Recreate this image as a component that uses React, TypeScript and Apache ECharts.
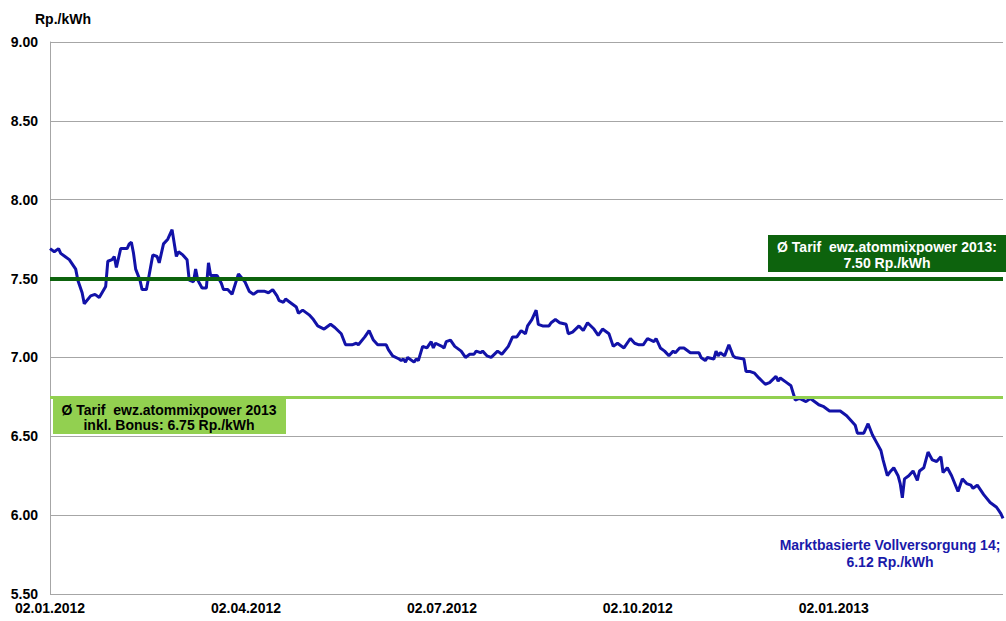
import React, { useEffect, useRef } from "react";
import * as echarts from "echarts";

// Days since 02.01.2012 for each observation
const dayOffsets = [
  0, 2, 4, 5, 7, 9, 12, 13, 15, 16, 19, 21, 23, 26, 27, 29, 30, 31, 33, 36, 37, 38, 39, 40, 42, 43, 45, 46, 48, 50,
  51, 53, 55, 57, 59, 60, 62, 64, 65, 67, 68, 69, 71, 73, 74, 75, 78, 80, 81, 83, 85, 88, 91, 93, 95, 97, 100, 102,
  104, 106, 107, 109, 110, 112, 115, 116, 118, 121, 123, 125, 128, 131, 133, 136, 138, 141, 143, 144, 147, 149, 151,
  153, 157, 158, 160, 163, 164, 165, 166, 167, 170, 171, 172, 174, 176, 178, 179, 180, 183, 184, 185, 187, 189, 192,
  194, 196, 198, 199, 201, 202, 204, 206, 209, 211, 214, 216, 218, 220, 222, 223, 225, 227, 228, 230, 233, 234, 236,
  238, 241, 242, 244, 247, 249, 251, 254, 256, 258, 261, 263, 265, 268, 271, 273, 275, 277, 279, 282, 283, 285, 287,
  289, 291, 292, 294, 296, 299, 303, 304, 306, 307, 310, 311, 312, 313, 315, 317, 319, 320, 324, 325, 327, 329, 331,
  334, 336, 339, 340, 341, 344, 346, 348, 350, 353, 355, 356, 359, 361, 364, 369, 372, 374, 376, 377, 380, 382, 384,
  386, 388, 389, 391, 392, 394, 396, 397, 398, 399, 401, 403, 405, 406, 408, 410, 412, 414, 416, 417, 419, 421, 424,
  426, 428, 430, 431, 433, 436, 439, 442, 444, 445,
];

// Rp./kWh
const prices = [
  7.69, 7.67, 7.69, 7.66, 7.64, 7.62, 7.56, 7.49, 7.41, 7.34, 7.39, 7.4, 7.38, 7.45, 7.61, 7.62, 7.64, 7.57, 7.69, 7.69,
  7.72, 7.73, 7.66, 7.56, 7.49, 7.43, 7.43, 7.5, 7.65, 7.64, 7.6, 7.72, 7.75, 7.81, 7.64, 7.67, 7.65, 7.62, 7.49, 7.48,
  7.56, 7.49, 7.44, 7.44, 7.6, 7.52, 7.52, 7.47, 7.43, 7.43, 7.4, 7.53, 7.48, 7.42, 7.4, 7.42, 7.42, 7.41, 7.43, 7.39,
  7.36, 7.35, 7.37, 7.35, 7.32, 7.28, 7.3, 7.27, 7.24, 7.2, 7.18, 7.21, 7.19, 7.15, 7.08, 7.08, 7.09, 7.08, 7.13, 7.17,
  7.11, 7.08, 7.08, 7.05, 7.01, 6.99, 6.98, 6.99, 6.97, 7.0, 6.97, 6.99, 6.98, 7.07, 7.06, 7.1, 7.06, 7.09, 7.07, 7.06,
  7.1, 7.11, 7.07, 7.04, 7.0, 7.02, 7.02, 7.04, 7.03, 7.04, 7.01, 7.0, 7.04, 7.02, 7.07, 7.13, 7.13, 7.17, 7.15, 7.2,
  7.24, 7.3, 7.21, 7.2, 7.2, 7.22, 7.24, 7.22, 7.21, 7.15, 7.16, 7.2, 7.17, 7.22, 7.18, 7.14, 7.18, 7.15, 7.07, 7.09,
  7.06, 7.12, 7.09, 7.08, 7.08, 7.12, 7.1, 7.12, 7.06, 7.04, 7.01, 7.04, 7.03, 7.06, 7.06, 7.03, 7.03, 7.0, 6.98, 7.0,
  6.99, 7.04, 7.01, 7.03, 7.01, 7.08, 7.01, 7.0, 6.99, 6.91, 6.91, 6.9, 6.87, 6.83, 6.84, 6.88, 6.85, 6.87, 6.84, 6.82,
  6.73, 6.74, 6.72, 6.74, 6.73, 6.7, 6.69, 6.66, 6.66, 6.63, 6.6, 6.57, 6.52, 6.52, 6.58, 6.51, 6.46, 6.41, 6.35, 6.25,
  6.27, 6.3, 6.25, 6.2, 6.11, 6.23, 6.25, 6.28, 6.22, 6.28, 6.3, 6.4, 6.35, 6.34, 6.37, 6.27, 6.3, 6.25, 6.15, 6.23,
  6.2, 6.19, 6.17, 6.19, 6.13, 6.08, 6.05, 6.01, 5.98,
];

const xTickLabels = ["02.01.2012", "02.04.2012", "02.07.2012", "02.10.2012", "02.01.2013"];
const quarterDays = 91.5;
const xMaxDays = 445;
const yMin = 5.5;
const yMax = 9;
const yStep = 0.5;
const tariff = 7.5;
const tariffBonus = 6.75;
const marketPrice = 6.12;

const FONT = "'Liberation Sans', Arial, Helvetica, sans-serif";
const BLUE = "#1212A8";
const DARK_GREEN = "#0D630D";
const LIGHT_GREEN = "#92D050";
const GRID_GRAY = "#A6A6A6";

export default function App() {
  const ref = useRef<HTMLDivElement>(null);

  useEffect(() => {
    if (!ref.current) return;
    const chart = echarts.init(ref.current, null, { renderer: "svg" });
    chart.setOption({
      animation: false,
      grid: { left: 50, right: 0, top: 42, bottom: 27, containLabel: false },
      xAxis: {
        type: "value",
        min: 0,
        max: xMaxDays,
        interval: quarterDays,
        axisLine: { show: false },
        axisTick: { show: false },
        splitLine: { show: false },
        axisLabel: {
          color: "#000",
          fontWeight: "bold",
          fontSize: 14,
          fontFamily: FONT,
          margin: 7,
          formatter: (v: number) => {
            const i = Math.round(v / quarterDays);
            return Math.abs(v - i * quarterDays) < 1e-6 && xTickLabels[i] ? xTickLabels[i] : "";
          },
        },
      },
      yAxis: {
        type: "value",
        min: yMin,
        max: yMax,
        interval: yStep,
        axisLine: { show: true, lineStyle: { color: GRID_GRAY, width: 1 } },
        axisTick: { show: false },
        splitLine: { show: true, lineStyle: { color: GRID_GRAY, width: 1 } },
        axisLabel: {
          color: "#000",
          fontWeight: "bold",
          fontSize: 14,
          fontFamily: FONT,
          margin: 12,
          formatter: (v: number) => v.toFixed(2),
        },
      },
      series: [
        {
          type: "line",
          data: [],
          silent: true,
          markLine: {
            silent: true,
            symbol: ["none", "none"],
            label: { show: false },
            data: [
              { yAxis: tariffBonus, lineStyle: { color: LIGHT_GREEN, width: 3, type: "solid" } },
            ],
          },
        },
        {
          type: "line",
          data: dayOffsets.map((d, i) => [d, prices[i]]),
          symbol: "none",
          showSymbol: false,
          lineStyle: { color: BLUE, width: 3 },
          itemStyle: { color: BLUE },
          z: 3,
        },
        {
          type: "line",
          data: [],
          silent: true,
          z: 4,
          markLine: {
            silent: true,
            symbol: ["none", "none"],
            label: { show: false },
            data: [{ yAxis: tariff, lineStyle: { color: DARK_GREEN, width: 4, type: "solid" } }],
          },
        },
      ],
      graphic: [
        {
          type: "text",
          x: 35,
          y: 19,
          style: {
            text: "Rp./kWh",
            fill: "#000",
            font: `bold 14px ${FONT}`,
            textAlign: "left",
            textVerticalAlign: "middle",
          },
        },
        {
          type: "rect",
          shape: { x: 768, y: 235, width: 238, height: 37 },
          style: { fill: DARK_GREEN },
          z: 10,
        },
        {
          type: "text",
          x: 887,
          y: 255,
          z: 11,
          style: {
            text: `Ø Tarif  ewz.atommixpower 2013:\n${tariff.toFixed(2)} Rp./kWh`,
            fill: "#fff",
            font: `bold 14px ${FONT}`,
            textAlign: "center",
            textVerticalAlign: "middle",
            lineHeight: 16,
          },
        },
        {
          type: "rect",
          shape: { x: 53, y: 398, width: 233, height: 36 },
          style: { fill: LIGHT_GREEN },
          z: 10,
        },
        {
          type: "text",
          x: 169,
          y: 417,
          z: 11,
          style: {
            text: `Ø Tarif  ewz.atommixpower 2013\ninkl. Bonus: ${tariffBonus.toFixed(2)} Rp./kWh`,
            fill: "#000",
            font: `bold 14px ${FONT}`,
            textAlign: "center",
            textVerticalAlign: "middle",
            lineHeight: 15,
          },
        },
        {
          type: "text",
          x: 890,
          y: 553,
          z: 11,
          style: {
            text: `Marktbasierte Vollversorgung 14;\n${marketPrice.toFixed(2)} Rp./kWh`,
            fill: "#1A1AAA",
            font: `bold 14px ${FONT}`,
            textAlign: "center",
            textVerticalAlign: "middle",
            lineHeight: 17,
          },
        },
      ],
    });
    return () => chart.dispose();
  }, []);

  return (
    <div
      ref={ref}
      style={{ position: "fixed", left: 0, top: 0, width: 1006, height: 621, background: "#fff" }}
    />
  );
}
